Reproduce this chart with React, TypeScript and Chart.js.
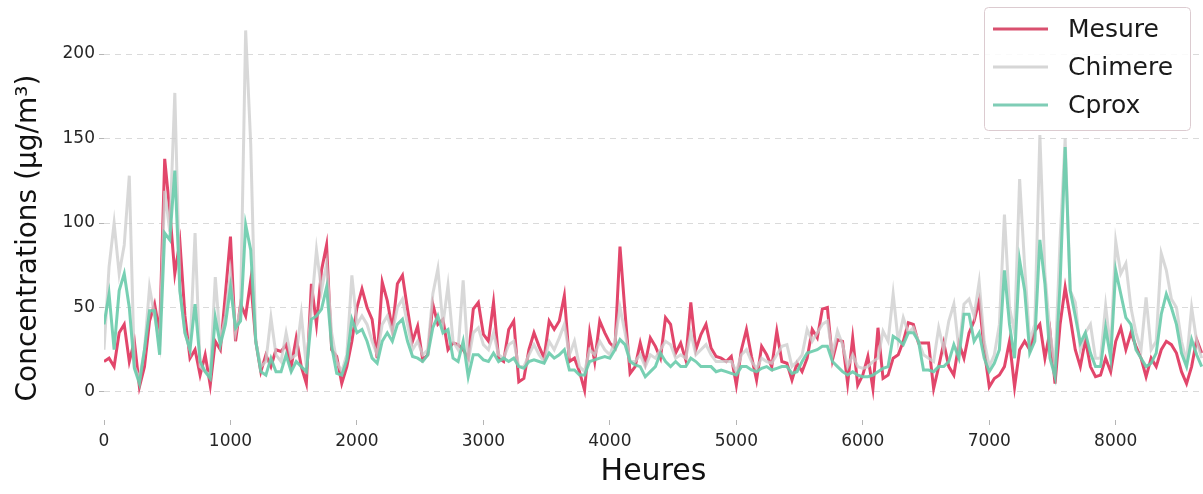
import React, { useEffect, useRef } from "react";
import { Chart, registerables } from "chart.js";

Chart.register(...registerables);

// Sampling step of the hourly series (hours between two read values)
const STEP_HOURS = 40;

const MESURE = [
  18, 20, 15, 35, 40, 18, 30, 3, 15, 42,
  52, 35, 138, 107, 70, 89, 45, 20, 25, 10,
  22, 4, 30, 25, 58, 92, 30, 52, 45, 66,
  30, 12, 22, 15, 25, 24, 28, 15, 32, 15,
  5, 64, 40, 72, 87, 25, 21, 5, 15, 30,
  50, 61, 50, 43, 20, 65, 54, 37, 64, 69,
  49, 30, 39, 19, 22, 52, 40, 43, 25, 29,
  28, 25, 20, 49, 53, 34, 30, 53, 20, 18,
  37, 42, 6, 8, 25, 35, 27, 20, 42, 37,
  42, 57, 18, 20, 12, 1, 35, 18, 42, 35,
  29, 26, 86, 47, 11, 15, 29, 17, 32, 27,
  20, 44, 40, 23, 29, 19, 53, 25, 34, 40,
  26, 21, 20, 18, 21, 4, 25, 37, 21, 7,
  27, 22, 15, 36, 18, 17, 7, 17, 12, 20,
  37, 32, 49, 50, 19, 31, 30, 5, 32, 4,
  10, 21, 2, 38, 8, 10, 20, 22, 30, 41,
  40, 29, 29, 29, 2, 15, 29, 15, 10, 29,
  20, 35, 42, 54, 25, 3, 8, 10, 15, 30,
  3, 25, 30, 25, 36, 40, 20, 36, 5, 40,
  62, 44, 25, 15, 31, 15, 9, 10, 20, 12,
  30, 38, 25, 35, 27, 20, 9, 20, 15, 25,
  30, 28, 23, 12, 5, 15, 31, 23,
];

const CHIMERE = [
  25, 74, 100, 70, 87, 128, 15, 8, 25, 62,
  45, 28, 119, 95, 177, 60, 35, 25, 94, 15,
  12, 10, 68, 30, 45, 70, 35, 50, 214, 147,
  30, 15, 18, 44, 22, 18, 35, 20, 22, 46,
  15, 50, 84, 60, 76, 35, 18, 12, 22, 69,
  40, 45, 40, 30, 22, 40, 45, 35, 50, 55,
  40, 25, 30, 22, 25, 58, 73, 40, 63, 30,
  25, 66, 18, 35, 38, 28, 25, 35, 22, 20,
  28, 30, 15, 15, 22, 28, 22, 18, 30, 25,
  32, 40, 22, 30, 15, 12, 25, 22, 30, 25,
  22, 30, 50, 35, 18, 18, 22, 15, 22, 20,
  25, 30, 28, 20, 22, 20, 35, 22, 25, 28,
  22, 18, 18, 18, 18, 12, 22, 25, 18, 14,
  20, 18, 17, 22, 27, 28, 15, 18, 22, 37,
  30, 35, 40, 42, 22, 36, 28, 15, 22, 15,
  14, 15, 18, 20, 36, 30, 58, 30, 44, 35,
  38, 30, 22, 20, 18, 38, 25, 42, 52, 25,
  52, 55, 45, 65, 30, 15, 22, 40, 105, 50,
  35, 126, 74, 30, 40, 152, 70, 35, 15, 90,
  150, 60, 53, 25, 35, 40, 20, 20, 51, 25,
  89, 70, 76, 50, 35, 25, 56, 25, 30, 82,
  72, 55, 50, 30, 18, 50, 30, 20,
];

const CPROX = [
  40, 58, 25, 60, 70, 50, 14, 5, 25, 48,
  48, 22, 94, 90, 131, 60, 35, 25, 52, 18,
  12, 8, 44, 28, 40, 62, 38, 42, 99, 84,
  30, 12, 10, 20, 12, 12, 22, 12, 18, 15,
  12, 43, 45, 49, 62, 27, 11, 10, 19, 43,
  35, 37, 30, 20, 17, 30, 35, 30, 40, 43,
  30, 21, 20, 18, 22, 38, 45, 35, 37, 20,
  18, 30, 9, 22, 22, 19, 18, 23, 18, 20,
  18, 20, 15, 14, 18, 19, 18, 17, 23, 20,
  22, 25, 13, 13, 10, 10, 18, 19, 20, 21,
  20, 25, 31, 28, 18, 16, 15, 9, 12, 15,
  23, 18, 15, 18, 15, 15, 20, 18, 15, 15,
  15, 12, 13, 12, 11, 10, 15, 15, 13, 12,
  14, 15, 13, 14, 15, 15, 11, 12, 18, 23,
  24, 25, 27, 27, 18, 15, 12, 10, 12, 10,
  9, 9, 10, 12, 14, 15, 33, 31, 28, 35,
  35, 30, 13, 13, 12, 15, 15, 18, 28, 20,
  46, 46, 30, 35, 20, 12, 17, 25, 72, 40,
  20, 78, 60, 23, 30, 90, 64, 20, 9, 64,
  145, 60, 45, 29, 35, 23, 15, 15, 38, 20,
  72, 58, 44, 40, 25, 20, 15, 17, 23, 46,
  58, 50, 40, 23, 15, 31, 22, 15,
];

const HOURS = MESURE.map((_, i) => i * STEP_HOURS);

const X_TICKS = [0, 1000, 2000, 3000, 4000, 5000, 6000, 7000, 8000];
const Y_TICKS = [0, 50, 100, 150, 200];

const SERIES_LABELS = ["Mesure", "Chimere", "Cprox"];
const X_TITLE = "Heures";
const Y_TITLE = "Concentrations (µg/m³)";

const FONT = '"DejaVu Sans", sans-serif';

const LINE_COLORS = ["#e2466b", "rgba(205,205,205,0.78)", "rgba(108,204,172,0.92)"];
const LEGEND_COLORS = ["#d9506f", "#d6d6d6", "#7fcdb6"];

const toPoints = (vals: number[]) => vals.map((v, i) => ({ x: HOURS[i], y: v }));

const overlayPlugin = {
  id: "overlay",
  afterDraw(chart: any) {
    const ctx = chart.ctx as CanvasRenderingContext2D;
    // Y axis title
    ctx.save();
    ctx.translate(29, 238);
    ctx.rotate(-Math.PI / 2);
    ctx.font = `28px ${FONT}`;
    ctx.fillStyle = "#111";
    ctx.textAlign = "center";
    ctx.textBaseline = "middle";
    ctx.fillText(Y_TITLE, 0, 0);
    ctx.restore();

    // Legend box
    ctx.save();
    const bx = 984.5, by = 7.5, bw = 206, bh = 123, r = 4;
    ctx.beginPath();
    ctx.moveTo(bx + r, by);
    ctx.lineTo(bx + bw - r, by);
    ctx.quadraticCurveTo(bx + bw, by, bx + bw, by + r);
    ctx.lineTo(bx + bw, by + bh - r);
    ctx.quadraticCurveTo(bx + bw, by + bh, bx + bw - r, by + bh);
    ctx.lineTo(bx + r, by + bh);
    ctx.quadraticCurveTo(bx, by + bh, bx, by + bh - r);
    ctx.lineTo(bx, by + r);
    ctx.quadraticCurveTo(bx, by, bx + r, by);
    ctx.closePath();
    ctx.fillStyle = "rgba(255,255,255,0.85)";
    ctx.fill();
    ctx.strokeStyle = "#dccbd0";
    ctx.lineWidth = 1;
    ctx.stroke();

    const rows = [29, 67, 105];
    SERIES_LABELS.forEach((label, i) => {
      ctx.beginPath();
      ctx.moveTo(993, rows[i]);
      ctx.lineTo(1048, rows[i]);
      ctx.strokeStyle = LEGEND_COLORS[i];
      ctx.lineWidth = 3;
      ctx.stroke();
      ctx.font = `25px ${FONT}`;
      ctx.fillStyle = "#1a1a1a";
      ctx.textAlign = "left";
      ctx.textBaseline = "middle";
      ctx.fillText(label, 1068, rows[i] + 1);
    });
    ctx.restore();
  },
};

export default function App() {
  const ref = useRef<HTMLCanvasElement | null>(null);

  useEffect(() => {
    if (!ref.current) return;
    const chart = new Chart(ref.current, {
      type: "line",
      data: {
        datasets: [
          {
            label: SERIES_LABELS[0],
            data: toPoints(MESURE),
            borderColor: LINE_COLORS[0],
            borderWidth: 3,
            pointRadius: 0,
            tension: 0,
            order: 3,
          },
          {
            label: SERIES_LABELS[1],
            data: toPoints(CHIMERE),
            borderColor: LINE_COLORS[1],
            borderWidth: 3,
            pointRadius: 0,
            tension: 0,
            order: 2,
          },
          {
            label: SERIES_LABELS[2],
            data: toPoints(CPROX),
            borderColor: LINE_COLORS[2],
            borderWidth: 3,
            pointRadius: 0,
            tension: 0,
            order: 1,
          },
        ],
      },
      options: {
        responsive: false,
        animation: false,
        events: [],
        layout: { padding: 0 },
        plugins: {
          legend: { display: false },
          tooltip: { enabled: false },
        },
        scales: {
          x: {
            type: "linear",
            min: 0,
            max: 8690,
            afterFit: (s: any) => {
              s.height = 74;
              s.paddingLeft = 0;
              s.paddingRight = 0;
            },
            afterBuildTicks: (s: any) => {
              s.ticks = X_TICKS.map((v) => ({ value: v }));
            },
            grid: {
              drawOnChartArea: false,
              drawTicks: true,
              tickLength: 5,
              tickColor: "#b5b5b5",
              tickWidth: 1,
            },
            border: { display: false },
            ticks: {
              font: { family: FONT, size: 17 },
              color: "#262626",
              padding: 6,
              maxRotation: 0,
              autoSkip: false,
              callback: (v: any) => String(v),
            },
            title: {
              display: true,
              text: X_TITLE,
              font: { family: FONT, size: 30 },
              color: "#111",
              padding: { top: 0, bottom: 4 },
            },
          },
          y: {
            type: "linear",
            min: -16.6,
            max: 232,
            afterFit: (s: any) => {
              s.width = 104;
              s.paddingTop = 0;
              s.paddingBottom = 0;
            },
            afterBuildTicks: (s: any) => {
              s.ticks = Y_TICKS.map((v) => ({ value: v }));
            },
            grid: {
              color: "#dadada",
              lineWidth: 1,
              drawTicks: true,
              tickLength: 5,
              tickColor: "#b5b5b5",
              tickWidth: 1,
              tickBorderDash: [],
            },
            border: { display: false, dash: [6, 5] },
            ticks: {
              font: { family: FONT, size: 17 },
              color: "#262626",
              padding: 4,
              autoSkip: false,
              callback: (v: any) => String(v),
            },
          },
        },
      },
      plugins: [overlayPlugin],
    });
    return () => chart.destroy();
  }, []);

  return (
    <div style={{ position: "absolute", left: 0, top: 0, width: 1203, height: 494, background: "#fff" }}>
      <canvas ref={ref} width={1203} height={494} style={{ display: "block" }} />
    </div>
  );
}
